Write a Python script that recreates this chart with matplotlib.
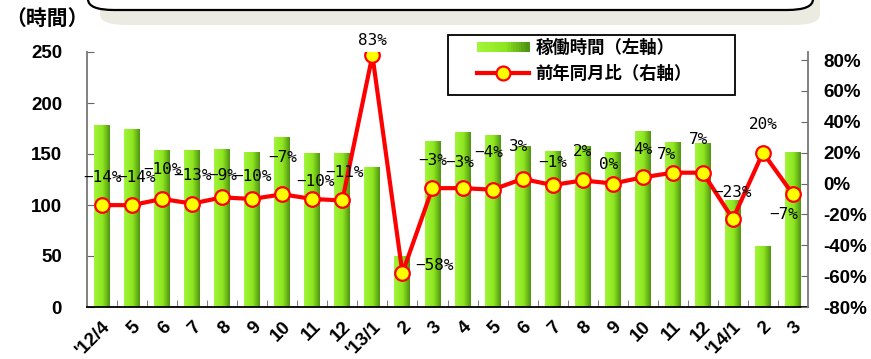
import matplotlib.pyplot as plt
import numpy as np
from matplotlib.colors import LinearSegmentedColormap
from matplotlib.patches import FancyBboxPatch, Rectangle
from matplotlib.lines import Line2D
from matplotlib.legend_handler import HandlerBase

plt.rcParams['font.family'] = ['Noto Sans CJK JP', 'DejaVu Sans']
num_font = ['Liberation Sans', 'DejaVu Sans']
lab_font = ['DejaVu Sans Mono', 'DejaVu Sans']

months = ["'12/4", "5", "6", "7", "8", "9", "10", "11", "12", "'13/1", "2", "3",
          "4", "5", "6", "7", "8", "9", "10", "11", "12", "'14/1", "2", "3"]
hours = [178, 175, 154, 154, 155, 152, 167, 151, 151, 137, 50, 163,
         172, 169, 158, 153, 158, 152, 173, 162, 161, 105, 60, 152]
yoy = [-14, -14, -10, -13, -9, -10, -7, -10, -11, 83, -58, -3,
       -3, -4, 3, -1, 2, 0, 4, 7, 7, -23, 20, -7]

# label offsets in pixels (dx, dy) from the marker
offs = [(0, 28), (4, 28), (0, 29), (0, 28), (0, 22), (0, 22), (0, 37), (3, 17),
        (2, 28), (0, 15), (13, 8), (0, 28), (-3, 26), (-4, 37), (-4, 32), (0, 23),
        (0, 29), (-4, 19), (0, 28), (-6, 18), (-4, 33), (0, 27), (0, 28), (-9, -20)]

green = LinearSegmentedColormap.from_list(
    'g', [(0, '#a2f53a'), (0.55, '#8de51f'), (1, '#4f9412')])

fig = plt.figure(figsize=(8.71, 3.59), dpi=100)
ax = fig.add_axes([87/871, 1-307/359, 721/871, 255/359])
x = np.arange(len(months))

bars = ax.bar(x, hours, width=0.53, color='none', edgecolor='none', zorder=2)
grad = np.linspace(0, 1, 64).reshape(1, -1)
for b in bars:
    im = ax.imshow(grad, cmap=green, aspect='auto', zorder=2,
                   extent=[b.get_x(), b.get_x() + b.get_width(), 0, b.get_height()])
    im.set_clip_path(b)

ax.set_xlim(-0.5, len(months) - 0.5)
ax.set_ylim(0, 250)
ax.set_yticks([0, 50, 100, 150, 200, 250])
ax.set_xticks(x)
ax.set_xticklabels(months, rotation=45, ha='right', rotation_mode='anchor',
                   fontsize=13.5, fontweight='bold', family=num_font)
ax.set_xticks(x[:-1] + 0.5, minor=True)
ax.tick_params(axis='x', which='major', length=0, pad=8)
ax.tick_params(axis='x', which='minor', direction='in', length=5, color='#666666')
ax.tick_params(axis='y', direction='in', length=5, color='#666666', pad=18)
for t in ax.get_yticklabels():
    t.set_fontweight('bold')
    t.set_fontsize(13.5)
    t.set_family(num_font)
ax.spines['top'].set_visible(False)
ax.spines['right'].set_visible(False)
ax.spines['left'].set_color('#777777')
ax.spines['left'].set_linewidth(1.3)
ax.spines['bottom'].set_linewidth(1.3)

ax2 = ax.twinx()
ax2.set_ylim(-80, 85.2)
ax2.set_yticks(np.arange(-80, 81, 20))
ax2.set_yticklabels(['%d%%' % v for v in np.arange(-80, 81, 20)],
                    fontsize=13.5, fontweight='bold', family=num_font)
ax2.tick_params(axis='y', direction='in', length=5, color='#666666', pad=11)
for s in ['top', 'left', 'bottom']:
    ax2.spines[s].set_visible(False)
ax2.spines['right'].set_color('#777777')
ax2.spines['right'].set_linewidth(1.3)

ax2.plot(x, yoy, color='#ff0000', lw=3, marker='o', ms=10.5,
         mfc='#ffff00', mec='#ff0000', mew=1.6, zorder=5)
for i, v in enumerate(yoy):
    dx, dy = offs[i]
    ha = 'left' if i == 10 else 'center'
    ax2.annotate(('%d%%' % v).replace('-', '\u2212'), (x[i], v),
                 xytext=(dx * 0.72, dy * 0.72),
                 textcoords='offset points', ha=ha, va='center', fontsize=11.5,
                 family=lab_font, zorder=6)


class GradHandler(HandlerBase):
    def create_artists(self, legend, orig, xd, yd, width, height, fontsize, trans):
        arts = []
        n = 20
        for k in range(n):
            r = Rectangle((xd + width * k / n, yd + height * 0.1), width / n + 0.3,
                          height * 0.8, facecolor=green(k / (n - 1)),
                          edgecolor='none', transform=trans)
            arts.append(r)
        return arts


# legend frame drawn separately (wider than its content)
frame = Rectangle((448/871, 1-95/359), 287/871, 60/359, transform=fig.transFigure,
                  facecolor='white', edgecolor='black', lw=1.3, zorder=7)
fig.patches.append(frame)

bar_handle = Rectangle((0, 0), 1, 1)
line_handle = Line2D([], [], color='#ff0000', lw=3, marker='o', ms=10,
                     mfc='#ffff00', mec='#ff0000', mew=1.6)
leg = fig.legend([bar_handle, line_handle], ['稼働時間（左軸）', '前年同月比（右軸）'],
                 handler_map={Rectangle: GradHandler()},
                 loc='upper left', bbox_to_anchor=(477/871, 1-39/359),
                 borderaxespad=0, borderpad=0, frameon=False,
                 prop={'size': 12.5, 'weight': 'bold'}, handlelength=3.0,
                 labelspacing=0.45, handletextpad=0.35)
leg.set_zorder(8)

fig.text(5/871, 1-18/359, '（時間）', fontsize=15, fontweight='bold',
         ha='left', va='center')

# top callout box (cut off by the image edge)
shadow = FancyBboxPatch((100/871, 1 - 25/359), 720/871, 0.2,
                        boxstyle='round,pad=0,rounding_size=0.03',
                        transform=fig.transFigure, facecolor='#ecebe2',
                        edgecolor='none', zorder=0)
fig.patches.append(shadow)
box = FancyBboxPatch((88/871, 1 - 10/359), 725/871, 0.2,
                     boxstyle='round,pad=0,rounding_size=0.03',
                     transform=fig.transFigure, facecolor='white',
                     edgecolor='black', lw=1.6, zorder=1)
fig.patches.append(box)

fig.savefig('out.png', dpi=100)
